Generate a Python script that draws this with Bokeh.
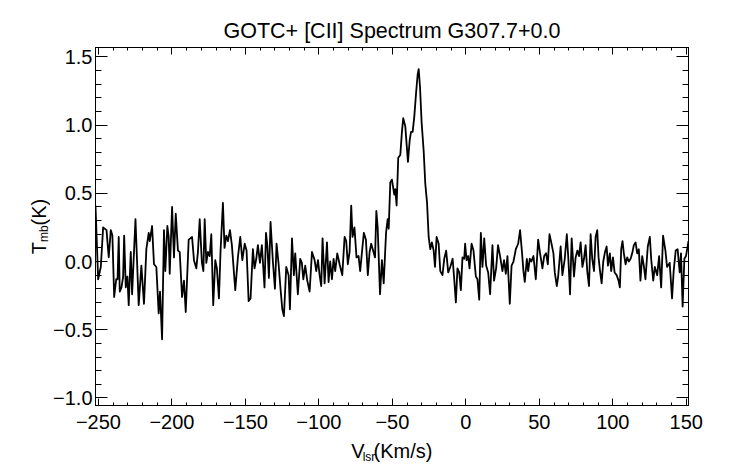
import numpy as np

from bokeh.plotting import figure
from bokeh.layouts import row, column
from bokeh.models import Range1d, LinearAxis, FixedTicker, CustomLabelingPolicy
from bokeh.core.properties import value
from bokeh.embed import file_html
from bokeh.resources import INLINE

# [CII] spectrum, (V_lsr km/s, T_mb K), in velocity order
baseline_far = [
    (-252.0, 0.41), (-250.2, -0.13), (-248.4, -0.04), (-246.8, 0.25), (-244.5, 0.23),
    (-243.0, 0.03), (-241.6, 0.23), (-240.5, 0.19), (-239.3, -0.26), (-237.9, -0.13),
    (-237.0, -0.13), (-236.2, 0.18), (-235.5, -0.22), (-234.3, -0.19), (-233.2, -0.11),
    (-232.5, 0.19), (-231.4, -0.19), (-230.3, -0.11), (-229.4, -0.32), (-228.0, 0.07),
    (-227.1, -0.24), (-224.8, 0.31), (-222.6, -0.32), (-220.8, -0.03), (-219.0, -0.31),
    (-217.4, 0.09), (-215.8, 0.21), (-215.1, 0.15), (-213.5, 0.26), (-212.2, -0.02),
    (-210.6, -0.04), (-209.0, -0.38), (-208.1, -0.22), (-206.7, -0.57), (-205.4, 0.23),
    (-204.5, -0.07), (-203.1, 0.26), (-202.2, 0.18), (-201.5, -0.09), (-199.9, 0.40),
    (-198.6, 0.03), (-197.4, 0.35), (-195.9, 0.08), (-194.7, 0.07), (-193.1, -0.26),
    (-191.8, -0.14), (-190.6, -0.37), (-188.6, 0.16), (-186.3, 0.18), (-185.0, 0.01),
    (-183.4, -0.05), (-182.3, 0.07), (-181.1, 0.31), (-179.6, -0.01), (-178.6, -0.07),
    (-177.7, 0.31), (-176.6, -0.01), (-175.5, 0.07), (-174.3, 0.04), (-173.2, 0.20),
    (-171.9, -0.32), (-170.5, 0.01), (-169.4, -0.05), (-168.0, -0.27), (-166.9, 0.08),
    (-165.3, 0.43), (-164.2, 0.10), (-163.0, 0.19), (-161.9, 0.15), (-160.5, 0.23),
    (-159.2, 0.12),
]
baseline_blue = [
    (-156.9, -0.21), (-155.1, 0.03), (-153.5, 0.18), (-152.1, 0.01), (-150.5, 0.13),
    (-149.2, 0.08), (-147.8, -0.29), (-146.5, -0.27), (-144.9, 0.09), (-143.8, -0.05),
    (-142.6, 0.02), (-141.5, 0.12), (-140.1, -0.01), (-138.8, 0.12), (-137.0, -0.19),
    (-136.0, 0.21), (-135.1, 0.12), (-134.0, -0.12), (-132.9, 0.29), (-131.3, 0.00),
    (-129.9, -0.20), (-128.8, 0.13), (-127.4, -0.02), (-126.1, -0.20), (-124.9, -0.35),
    (-123.8, -0.40), (-122.2, -0.04), (-120.6, -0.10), (-119.7, -0.35), (-118.3, 0.17),
    (-117.0, -0.10), (-116.1, 0.06), (-114.3, -0.24), (-112.7, 0.02), (-111.6, -0.01),
    (-110.6, -0.13), (-109.3, -0.03), (-107.9, -0.14), (-106.3, -0.22), (-104.7, 0.07),
    (-102.9, 0.01), (-101.8, -0.07), (-100.6, 0.01), (-99.5, -0.10), (-98.4, -0.18),
    (-97.5, 0.17), (-96.1, -0.16), (-94.5, 0.14), (-93.4, -0.15), (-92.3, 0.00),
    (-91.1, -0.13), (-90.0, 0.02), (-88.9, -0.07), (-87.5, 0.06), (-85.9, -0.02),
    (-84.1, -0.10), (-82.5, 0.18), (-81.4, 0.15), (-80.3, -0.02), (-79.1, 0.07),
    (-78.0, 0.41), (-77.1, 0.18), (-75.8, 0.25), (-74.4, 0.03), (-73.0, 0.04),
    (-71.9, -0.07), (-70.5, 0.09), (-69.4, 0.21), (-68.0, 0.16), (-66.7, -0.10),
    (-65.5, 0.07), (-64.4, 0.13),
]
line_core = [
    (-61.8, 0.03), (-60.9, 0.37), (-60.0, 0.25), (-58.4, -0.24), (-57.1, 0.01),
    (-55.9, -0.16), (-54.3, 0.21), (-53.2, 0.31), (-52.5, 0.24), (-51.4, 0.58),
    (-50.3, 0.60), (-48.7, 0.49), (-48.0, 0.53), (-47.1, 0.41), (-46.0, 0.76),
    (-44.6, 0.78), (-43.5, 0.95), (-42.6, 1.05), (-41.2, 0.99), (-40.3, 0.86),
    (-39.4, 0.73), (-38.2, 0.89), (-37.3, 0.95), (-36.2, 0.95), (-35.1, 1.06),
    (-33.9, 1.23), (-32.8, 1.37), (-32.1, 1.41), (-31.2, 1.28), (-30.1, 1.02),
    (-28.7, 0.81), (-27.6, 0.57), (-26.4, 0.43), (-25.3, 0.18), (-24.2, 0.09),
    (-23.1, 0.14), (-21.9, 0.08), (-21.0, -0.04), (-19.9, 0.18), (-18.5, 0.13),
    (-17.4, -0.07),
]
baseline_red = [
    (-15.9, -0.10), (-14.7, 0.02), (-13.4, 0.08), (-12.0, -0.08), (-10.6, -0.04),
    (-9.0, 0.02), (-7.9, -0.13), (-6.8, -0.30), (-5.7, -0.05), (-4.5, -0.08),
    (-3.4, -0.21), (-2.3, 0.03), (-1.1, 0.02), (-0.5, 0.13), (0.5, 0.01),
    (1.6, 0.04), (2.5, -0.05), (3.9, 0.13), (5.2, 0.08), (6.8, -0.11),
    (7.9, -0.13), (9.1, -0.28), (10.2, 0.21), (11.3, -0.04), (12.5, 0.17),
    (13.8, -0.03), (15.2, -0.08), (16.5, -0.24), (18.1, 0.12), (19.2, -0.14),
    (20.6, -0.05), (21.9, 0.12), (23.3, 0.04), (24.9, -0.07), (26.0, 0.01),
    (27.2, -0.09), (28.3, 0.04), (29.9, -0.31), (31.1, -0.03), (32.4, 0.00),
    (34.0, 0.09), (35.6, 0.13), (36.9, 0.23), (38.1, 0.08), (39.2, -0.07),
    (40.1, -0.15), (41.5, 0.02), (42.4, -0.07), (43.5, 0.02), (44.6, 0.00),
    (46.0, 0.04), (47.6, -0.13), (49.2, 0.16), (50.5, 0.06), (52.1, -0.05),
    (53.3, 0.04), (54.6, 0.06), (55.8, -0.02), (56.9, 0.20), (58.3, 0.13),
    (59.6, 0.06), (60.5, -0.08), (61.9, -0.18), (62.8, -0.11),
]
baseline_far_red = [
    (64.5, 0.11), (65.7, -0.10), (67.3, 0.02), (68.7, 0.20), (69.8, 0.01),
    (70.9, -0.24), (72.0, 0.17), (73.6, -0.11), (74.7, 0.03), (75.9, 0.08),
    (77.0, 0.04), (78.1, 0.14), (79.3, -0.04), (80.4, 0.02), (81.5, 0.12),
    (82.6, -0.07), (83.8, -0.18), (84.9, 0.20), (86.0, 0.02), (87.2, -0.07),
    (88.3, 0.18), (89.4, 0.23), (90.3, 0.03), (91.3, -0.07), (92.4, -0.16),
    (93.5, 0.00), (94.7, 0.07), (95.8, 0.11), (96.7, -0.03), (98.0, 0.06),
    (98.9, -0.07), (100.1, 0.03), (101.2, -0.08), (102.6, -0.10), (103.9, -0.14),
    (104.8, -0.19), (105.7, 0.09), (106.6, 0.15), (107.5, 0.06), (108.7, -0.02),
    (109.8, 0.03), (110.9, 0.00), (112.1, 0.02), (113.2, 0.06), (114.3, 0.12),
    (115.5, 0.14), (116.6, 0.06), (117.7, 0.09), (118.8, -0.14), (120.0, 0.04),
    (121.1, -0.03), (122.2, -0.13), (123.8, 0.11), (125.2, 0.18), (126.1, 0.02),
    (127.5, -0.14), (128.6, -0.04), (130.2, -0.10), (131.5, 0.04), (132.9, -0.19),
    (134.2, 0.19), (135.8, 0.08), (136.9, -0.04), (138.7, -0.01), (140.3, -0.27),
    (141.4, -0.07), (142.8, 0.08), (144.1, 0.09), (145.5, -0.08), (146.4, 0.06),
    (147.5, -0.33), (148.7, 0.02), (149.8, 0.04), (151.5, 0.15),
]

x_ticks = [-250, -200, -150, -100, -50, 0, 50, 100, 150]
x_tick_labels = ["\u2212250", "\u2212200", "\u2212150", "\u2212100", "\u221250",
                 "0", "50", "100", "150"]
y_ticks = [-1.0, -0.5, 0.0, 0.5, 1.0, 1.5]
y_tick_labels = ["\u22121.0", "\u22120.5", "0.0", "0.5", "1.0", "1.5"]
x_minor = list(range(-250, 151, 10))
y_minor = [round(t / 10, 1) for t in range(-10, 16)]

title_text = "GOTC+ [CII] Spectrum G307.7+0.0"

spec = np.array(baseline_far + baseline_blue + line_core + baseline_red + baseline_far_red)
vel = spec[:, 0]
tmb = spec[:, 1]

FONT = "Liberation Sans"
X0, X1 = -252.0, 151.5
Y0, Y1 = -1.055, 1.568

# page is 742 x 464: a strip on the left for the y title, the plot, a strip
# under it for the x title (both titles carry subscripts)
LEFT_W = 50
MAIN_W, MAIN_H = 742 - LEFT_W, 437
FW, FH = 594, 358
BORDER_L, BORDER_T = 94 - LEFT_W, 47

p = figure(width=MAIN_W, height=MAIN_H,
           x_range=Range1d(X0, X1), y_range=Range1d(Y0, Y1),
           min_border_left=BORDER_L, min_border_right=MAIN_W - BORDER_L - FW,
           min_border_top=BORDER_T, min_border_bottom=MAIN_H - BORDER_T - FH,
           output_backend="svg", toolbar_location=None)
p.xgrid.grid_line_color = None
p.ygrid.grid_line_color = None
p.outline_line_color = "black"
p.outline_line_width = 1

p.title.text = title_text
p.title.align = "center"
p.title.text_font = FONT
p.title.text_font_size = "21.5px"
p.title.text_font_style = "normal"
p.title.text_color = "black"
p.title.standoff = 10

p.line(vel, tmb, line_color="black", line_width=1.8, line_join="round")

p.add_layout(LinearAxis(), "above")
p.add_layout(LinearAxis(), "right")

# top and right axes carry ticks only
no_labels = CustomLabelingPolicy(code="return new indices.constructor(indices.size, 0)")


def style_axis(ax, ticks, minor, labels, tick_len):
    ax.ticker = FixedTicker(ticks=ticks, minor_ticks=minor)
    ax.axis_line_color = "black"
    ax.major_tick_line_color = "black"
    ax.minor_tick_line_color = "black"
    ax.major_tick_in = tick_len
    ax.major_tick_out = 0
    ax.minor_tick_in = tick_len // 2
    ax.minor_tick_out = 0
    if labels:
        ax.major_label_overrides = dict(zip(ticks, labels))
        ax.major_label_text_font = FONT
        ax.major_label_text_font_size = "20px"
        ax.major_label_text_color = "black"
    else:
        ax.major_label_policy = no_labels
        ax.major_label_text_font_size = "0px"
        ax.major_label_standoff = 0


style_axis(p.below[0], x_ticks, x_minor, x_tick_labels, 7)
style_axis(p.above[0], x_ticks, x_minor, None, 7)
style_axis(p.left[0], y_ticks, y_minor, y_tick_labels, 12)
style_axis(p.right[0], y_ticks, y_minor, None, 12)
p.below[0].major_label_standoff = 9
p.left[0].major_label_standoff = 3


def text_strip(w, h):
    f = figure(width=w, height=h, x_range=Range1d(0, w), y_range=Range1d(0, h),
               x_axis_type=None, y_axis_type=None, min_border=0, title=None,
               output_backend="svg", toolbar_location=None)
    f.outline_line_color = None
    return f


# y title, T_mb(K), read bottom to top; y counts up from the page bottom
left = text_strip(LEFT_W, 464)
left.text(x=[38, 38], y=[210.2, 239.1], text=["T", "(K)"], angle=np.pi / 2,
          text_font=value(FONT), text_font_size="20px", text_color="black",
          text_align="left", text_baseline="alphabetic")
left.text(x=[43], y=[222.4], text=["mb"], angle=np.pi / 2,
          text_font=value(FONT), text_font_size="12px", text_color="black",
          text_align="left", text_baseline="alphabetic")

# x title, V_lsr(Km/s)
strip_h = 464 - MAIN_H
bottom = text_strip(MAIN_W, strip_h)
bottom.text(x=[348.5 - LEFT_W, 374.5 - LEFT_W], y=[14, 14],
            text=["V", "(Km/s)"],
            text_font=value(FONT), text_font_size="20px", text_color="black",
            text_align="left", text_baseline="alphabetic")
bottom.text(x=[361.8 - LEFT_W], y=[8], text=["lsr"],
            text_font=value(FONT), text_font_size="12px", text_color="black",
            text_align="left", text_baseline="alphabetic")

layout = row(left, column(p, bottom))

open("out.html", "w").write(file_html(layout, INLINE))
